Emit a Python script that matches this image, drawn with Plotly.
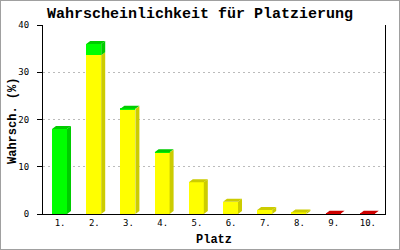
import plotly.graph_objects as go

# ---- data ----
platz = ["1.", "2.", "3.", "4.", "5.", "6.", "7.", "8.", "9.", "10."]
gelb = [0, 33.6, 22.2, 13.0, 6.7, 2.6, 0.85, 0.3, 0, 0]
gruen = [18.0, 2.4, 0.05, 0.05, 0, 0, 0, 0, 0, 0]
rot = [0, 0, 0, 0, 0, 0, 0, 0, 0.05, 0.05]
y_ticks = [0, 10, 20, 30, 40]

title = "Wahrscheinlichkeit für Platzierung"
x_title = "Platz"
y_title = "Wahrsch. (%)"

# ---- geometry / style ----
W, H = 400, 250
ML, MR, MT, MB = 43, 15, 25, 36
PW, PH = W - ML - MR, H - MT - MB
XMIN, XMAX = -0.5, len(platz) - 0.5
YMIN, YMAX = 0, 40
px_x = PW / (XMAX - XMIN)
px_y = PH / (YMAX - YMIN)
bar_w = 15 / px_x
bar_shift = -0.6 / px_x
dx = 4 / px_x
dy = 3 / px_y

series = [
    ("gelb", gelb, "#ffff00", "#cccc00"),
    ("gruen", gruen, "#00ff00", "#00cc00"),
    ("rot", rot, "#ff0000", "#cc0000"),
]

xs = list(range(len(platz)))
fig = go.Figure()

for name, vals, front, side in series:
    fig.add_trace(go.Bar(
        x=xs, y=vals, width=bar_w, offset=-bar_w / 2 + bar_shift,
        marker=dict(color=front, line=dict(width=0)),
        name=name, showlegend=False, hoverinfo="skip",
    ))

# 3D side and top faces computed from the data
side_paths = {name: ([], []) for name, *_ in series}
top_paths = {name: ([], []) for name, *_ in series}
for i in xs:
    xl = i - bar_w / 2 + bar_shift
    xr = xl + bar_w
    cum = 0
    last = None
    for name, vals, front, side in series:
        v = vals[i]
        if v <= 0:
            continue
        y0, y1 = cum, cum + v
        px, py = side_paths[name]
        px += [xr, xr + dx, xr + dx, xr, xr, None]
        py += [y0, y0 + dy, y1 + dy, y1, y0, None]
        cum = y1
        last = name
    if last is not None:
        tx, ty = top_paths[last]
        tx += [xl, xl + dx, xr + dx, xr, xl, None]
        ty += [cum, cum + dy, cum + dy, cum, cum, None]

for name, vals, front, side in series:
    for paths in (side_paths, top_paths):
        px, py = paths[name]
        if px:
            fig.add_trace(go.Scatter(
                x=px, y=py, mode="lines", fill="toself",
                fillcolor=side, line=dict(width=0, color=side),
                showlegend=False, hoverinfo="skip",
            ))

mono = "DejaVu Sans Mono"
fig.update_layout(
    width=W, height=H,
    margin=dict(l=ML, r=MR, t=MT, b=MB, pad=0),
    paper_bgcolor="white", plot_bgcolor="white",
    barmode="stack", bargap=0,
    title=dict(
        text=title, x=0.5, xanchor="center", xref="container",
        y=1 - 13 / H, yanchor="middle",
        font=dict(family="Liberation Mono", size=15, color="black", weight="bold"),
    ),
    xaxis=dict(
        range=[XMIN, XMAX], tickmode="array", tickvals=xs, ticktext=platz,
        showgrid=False, zeroline=False, showline=True, linecolor="black", linewidth=1,
        ticks="", ticklabelstandoff=0,
        tickfont=dict(family=mono, size=9, color="black"),
        fixedrange=True,
    ),
    yaxis=dict(
        range=[YMIN, YMAX], tickmode="array", tickvals=y_ticks,
        showgrid=True, gridcolor="#bbbbbb", griddash="2px,3px", gridwidth=1,
        zeroline=False, showline=True, linecolor="black", linewidth=1, mirror=True,
        ticks="outside", ticklen=5, tickcolor="black", ticklabelstandoff=6,
        tickfont=dict(family=mono, size=9, color="black"),
        fixedrange=True,
    ),
    annotations=[
        dict(text=y_title, xref="paper", yref="paper",
             x=(13 - ML) / PW, y=(MT + PH - 121) / PH,
             xanchor="center", yanchor="middle", textangle=-90, showarrow=False,
             font=dict(family="Liberation Mono", size=12, color="black", weight="bold")),
        dict(text=x_title, xref="paper", yref="paper",
             x=0.5, y=(MT + PH - 240) / PH,
             xanchor="center", yanchor="middle", showarrow=False,
             font=dict(family="Liberation Mono", size=12, color="black", weight="bold")),
    ],
    shapes=[
        dict(type="rect", xref="paper", yref="paper",
             x0=-ML / PW, x1=1 + MR / PW, y0=-MB / PH, y1=1 + MT / PH,
             line=dict(color="#a0a0a0", width=2), layer="above"),
    ],
)

fig.write_html("out.html")
